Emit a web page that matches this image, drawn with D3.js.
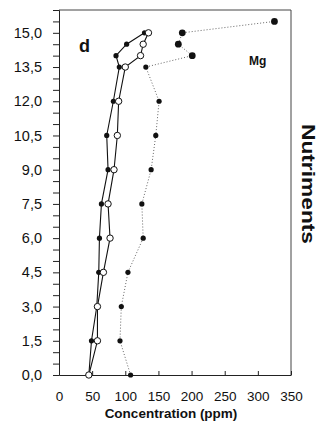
<!DOCTYPE html>
<html>
<head>
<meta charset="utf-8">
<script src="https://cdn.jsdelivr.net/npm/d3@7"></script>
<style>
  html, body { margin: 0; padding: 0; background: #fff; }
  svg { display: block; font-family: "Liberation Sans", Arial, Helvetica, sans-serif; }
</style>
</head>
<body>
<svg id="chart" width="322" height="423"></svg>
<script>
// ---------------- data ----------------
const depths = [0, 1.5, 3, 4.5, 6, 7.5, 9, 10.5, 12, 13.5, 14, 14.5, 15];
const filledSeries = [45, 49, 57, 60, 61, 64, 74, 72, 82, 91, 86, 102, 129];
const openSeries = [45, 58, 58, 67, 77, 74, 83, 88, 90, 100, 123, 127, 135];
const mgDepths = [0, 1.5, 3, 4.5, 6, 7.5, 9, 10.5, 12, 13.5, 14, 14.5, 15, 15.5];
const mgSeries = [108, 92, 94, 104, 127, 125, 139, 146, 151, 131, 201, 180, 186, 325];
const xTicks = [0, 50, 100, 150, 200, 250, 300, 350];
const yLabelTicks = [0, 1.5, 3, 4.5, 6, 7.5, 9, 10.5, 12, 13.5, 15];
const yMinorTicks = d3.range(0, 15.51, 0.5);

// ---------------- setup ----------------
const svg = d3.select("#chart");
const plotLeft = 59, plotRight = 291, plotTop = 10, plotBottom = 375;

const x = d3.scaleLinear().domain([0, 350]).range([plotLeft, plotRight]);
const y = d3.scaleLinear().domain([0, 16]).range([plotBottom, plotTop]);

// frame (top + right)
svg.append("path")
  .attr("d", `M${plotLeft},${plotTop}H${plotRight}V${plotBottom}`)
  .attr("fill", "none")
  .attr("stroke", "#444")
  .attr("stroke-width", 1);

// y axis: minor ticks every 0.5, labels every 1.5
const yAxis = svg.append("g").attr("transform", `translate(${plotLeft},0)`);
yAxis.call(d3.axisLeft(y).tickValues(yMinorTicks).tickSize(6).tickFormat(""));
yAxis.select(".domain").attr("stroke", "#222");
yAxis.selectAll(".tick line").attr("stroke", "#222");

const yLabels = svg.append("g").attr("transform", `translate(${plotLeft},0)`);
yLabels.call(d3.axisLeft(y).tickValues(yLabelTicks).tickSize(0).tickPadding(17)
  .tickFormat(d => d3.format(".1f")(d).replace(".", ",")));
yLabels.select(".domain").remove();
yLabels.selectAll("text")
  .attr("font-size", 14.5)
  .attr("font-family", "Liberation Sans, Arial, sans-serif")
  .attr("fill", "#111");

// x axis: ticks point inward
const xAxis = svg.append("g").attr("transform", `translate(0,${plotBottom})`);
xAxis.call(d3.axisBottom(x).tickValues(xTicks).tickSize(0).tickPadding(16));
xAxis.select(".domain").attr("stroke", "#222");
xAxis.selectAll("text")
  .attr("font-size", 13.5)
  .attr("font-family", "Liberation Sans, Arial, sans-serif")
  .attr("fill", "#111");
xAxis.selectAll(".tick").append("line")
  .attr("y1", 0).attr("y2", -4)
  .attr("stroke", "#222");

// ---------------- series ----------------
const line = d3.line().x(d => x(d.v)).y(d => y(d.depth));

const mgData = mgDepths.map((depth, i) => ({ depth, v: mgSeries[i] }));
const filledData = depths.map((depth, i) => ({ depth, v: filledSeries[i] }));
const openData = depths.map((depth, i) => ({ depth, v: openSeries[i] }));

// Mg dotted
svg.append("path")
  .datum(mgData)
  .attr("d", line)
  .attr("fill", "none")
  .attr("stroke", "#666")
  .attr("stroke-width", 1)
  .attr("stroke-dasharray", "1,2");

svg.append("g").selectAll("circle")
  .data(mgData)
  .enter()
  .append("circle")
  .attr("cx", d => x(d.v))
  .attr("cy", d => y(d.depth))
  .attr("r", d => d.depth > 13.5 ? 3.4 : 2.6)
  .attr("fill", "#111");

// filled solid
svg.append("path")
  .datum(filledData)
  .attr("d", line)
  .attr("fill", "none")
  .attr("stroke", "#111")
  .attr("stroke-width", 1.1);

svg.append("g").selectAll("circle")
  .data(filledData)
  .enter()
  .append("circle")
  .attr("cx", d => x(d.v))
  .attr("cy", d => y(d.depth))
  .attr("r", 2.6)
  .attr("fill", "#111");

// open solid
svg.append("path")
  .datum(openData)
  .attr("d", line)
  .attr("fill", "none")
  .attr("stroke", "#111")
  .attr("stroke-width", 1.1);

svg.append("g").selectAll("circle")
  .data(openData)
  .enter()
  .append("circle")
  .attr("cx", d => x(d.v))
  .attr("cy", d => y(d.depth))
  .attr("r", 3.2)
  .attr("fill", "#fff")
  .attr("stroke", "#111")
  .attr("stroke-width", 1);

// ---------------- labels ----------------
svg.append("text")
  .attr("x", 79).attr("y", 52)
  .attr("font-size", 18).attr("font-weight", "bold")
  .attr("fill", "#111")
  .text("d");

svg.append("text")
  .attr("x", 249).attr("y", 65)
  .attr("font-size", 12).attr("font-weight", "bold")
  .attr("fill", "#111")
  .text("Mg");

svg.append("text")
  .attr("x", (plotLeft + plotRight) / 2 - 4).attr("y", 418)
  .attr("text-anchor", "middle")
  .attr("font-size", 13.5).attr("font-weight", "bold")
  .attr("fill", "#111")
  .text("Concentration (ppm)");

svg.append("text")
  .attr("transform", "translate(302,184) rotate(90)")
  .attr("text-anchor", "middle")
  .attr("font-size", 19).attr("font-weight", "bold")
  .attr("textLength", 120)
  .attr("lengthAdjust", "spacingAndGlyphs")
  .attr("fill", "#111")
  .text("Nutriments");
</script>
</body>
</html>
